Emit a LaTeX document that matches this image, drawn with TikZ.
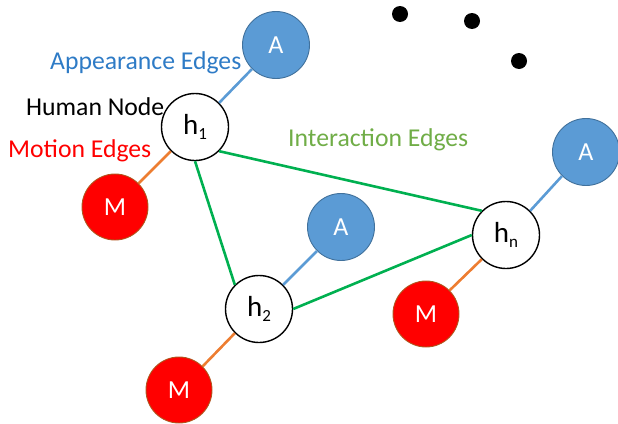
\documentclass[tikz,border=0pt]{standalone}
\usepackage{fontspec}
\setmainfont{Carlito}
\definecolor{afill}{HTML}{5B9BD5}
\definecolor{aline}{HTML}{41719C}
\definecolor{mfill}{HTML}{FF0000}
\definecolor{mline}{HTML}{B0561E}
\definecolor{eblue}{HTML}{5B9BD5}
\definecolor{eorange}{HTML}{ED7D31}
\definecolor{egreen}{HTML}{00B050}
\definecolor{tblue}{HTML}{2E7BC6}
\definecolor{tgreen}{HTML}{70AD47}
\newcommand\hsub[1]{h\raisebox{-4.5pt}{\fontsize{17}{18}\selectfont #1}}
\begin{document}
\begin{tikzpicture}[x=1pt,y=-1pt,
  hnode/.style={circle,draw=black,line width=1.4pt,fill=white,minimum size=67pt,inner sep=0pt,font=\fontsize{29}{32}\selectfont},
  anode/.style={circle,draw=aline,line width=0.9pt,fill=afill,minimum size=67pt,inner sep=0pt,text=white,font=\fontsize{26}{30}\selectfont},
  mnode/.style={circle,draw=mline,line width=0.9pt,fill=mfill,minimum size=66pt,inner sep=0pt,text=white,font=\fontsize{26}{30}\selectfont},
  dotnode/.style={circle,fill=black,minimum size=16pt,inner sep=0pt},
  lbl/.style={anchor=base west,inner sep=0pt,font=\fontsize{25.7}{30}\selectfont},
  aedge/.style={draw=eblue,line width=2.6pt},
  medge/.style={draw=eorange,line width=2.6pt},
  iedge/.style={draw=egreen,line width=2.6pt}]
\useasboundingbox (0,0) rectangle (618,423);
% nodes
\node[hnode] (h1) at (195,127) {\hsub{1}};
\node[hnode] (h2) at (259,309) {\hsub{2}};
\node[hnode] (hn) at (506,235) {\hsub{n}};
\node[anode] (a1) at (276,45) {A};
\node[anode] (a2) at (341,227) {A};
\node[anode] (a3) at (586,152) {A};
\node[mnode] (m1) at (115,207) {M};
\node[mnode] (m2) at (179,390) {M};
\node[mnode] (m3) at (426,314) {M};
\node[dotnode] (d1) at (400,14) {};
\node[dotnode] (d2) at (472,21) {};
\node[dotnode] (d3) at (519,61) {};
% edges
\draw[aedge] (h1.north east) -- (a1.south west);
\draw[aedge] (h2.north east) -- (a2.south west);
\draw[aedge] (hn.north east) -- (a3.south west);
\draw[medge] (h1.south west) -- (m1.north east);
\draw[medge] (h2.south west) -- (m2.north east);
\draw[medge] (hn.south west) -- (m3.north east);
\draw[iedge] (h1.south) -- (h2.north west);
\draw[iedge] (h1.south east) -- (hn.north west);
\draw[iedge] (h2.east) -- (hn.west);
% labels
\node[lbl,text=tblue] (la) at (50,69) {Appearance Edges};
\node[lbl,text=black] (lh) at (26,115) {Human Node};
\node[lbl,text=red] (lm) at (8,157) {Motion Edges};
\node[lbl,text=tgreen] (li) at (288,146) {Interaction Edges};
\end{tikzpicture}
\end{document}
